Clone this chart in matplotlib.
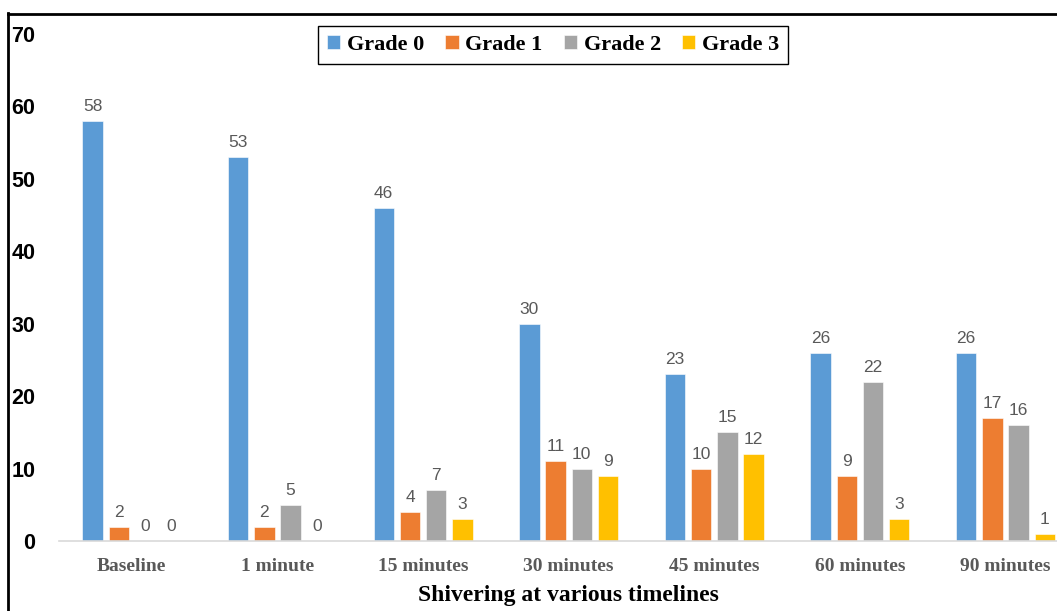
import matplotlib
matplotlib.use("Agg")
import matplotlib.pyplot as plt
import numpy as np
from matplotlib.lines import Line2D

categories = ["Baseline", "1 minute", "15 minutes", "30 minutes", "45 minutes", "60 minutes", "90 minutes"]
grade0 = [58, 53, 46, 30, 23, 26, 26]
grade1 = [2, 2, 4, 11, 10, 9, 17]
grade2 = [0, 5, 7, 10, 15, 22, 16]
grade3 = [0, 0, 3, 9, 12, 3, 1]
series_names = ["Grade 0", "Grade 1", "Grade 2", "Grade 3"]
colors = ["#5B9BD5", "#ED7D31", "#A5A5A5", "#FFC000"]
yticks = [0, 10, 20, 30, 40, 50, 60, 70]

W, H = 1057, 611
fig = plt.figure(figsize=(W / 100, H / 100), dpi=100)
ax = fig.add_axes([59 / W, (H - 541) / H, 1 - 59 / W, (541 - 34) / H])

x = np.arange(len(categories))
step = 0.18
width = 0.14
label_font = dict(family="Liberation Sans", size=12.5, color="#595959")
for i, (name, vals, c) in enumerate(zip(series_names, [grade0, grade1, grade2, grade3], colors)):
    pos = x + (i - 1.5) * step
    bars = ax.bar(pos, vals, width, color=c, label=name, edgecolor="white", linewidth=0.4, zorder=2)
    for p, v in zip(pos, vals):
        ax.annotate(str(v), (p, v), xytext=(0, 5), textcoords="offset points",
                    ha="center", va="bottom", **label_font)

ax.set_ylim(0, 70)
ax.set_xlim(-0.5, (W - 131) / 145.75)
ax.set_yticks(yticks)
ax.set_yticklabels([str(t) for t in yticks], family="Liberation Sans", weight="bold", size=15.5, color="black")
ax.set_xticks(x)
ax.set_xticklabels(categories, family="Liberation Serif", weight="bold", size=14, color="#595959")
ax.tick_params(axis="y", length=0, pad=17)
ax.tick_params(axis="x", length=0, pad=12)
for s in ["top", "right", "left"]:
    ax.spines[s].set_visible(False)
ax.spines["bottom"].set_color("#D9D9D9")
ax.spines["bottom"].set_linewidth(1.2)
ax.patch.set_alpha(0)

fig.text(568 / W, 1 - 596 / H, "Shivering at various timelines", ha="center", va="center",
         family="Liberation Serif", weight="bold", size=17, color="black")

leg = fig.legend(loc="center", bbox_to_anchor=(553 / W, 1 - 45 / H), ncol=4,
                 prop=dict(family="Liberation Serif", weight="bold", size=16),
                 frameon=True, fancybox=False, edgecolor="black", framealpha=1,
                 handlelength=0.6, handleheight=0.6, handletextpad=0.3, columnspacing=0.95,
                 borderpad=0.4)
leg.get_frame().set_linewidth(1.0)

fig.add_artist(Line2D([8 / W, 8 / W], [0, 1 - 13 / H], color="black", linewidth=2, transform=fig.transFigure))
fig.add_artist(Line2D([8 / W, 1], [1 - 14 / H, 1 - 14 / H], color="black", linewidth=2, transform=fig.transFigure))

fig.savefig("out.png", dpi=100)
